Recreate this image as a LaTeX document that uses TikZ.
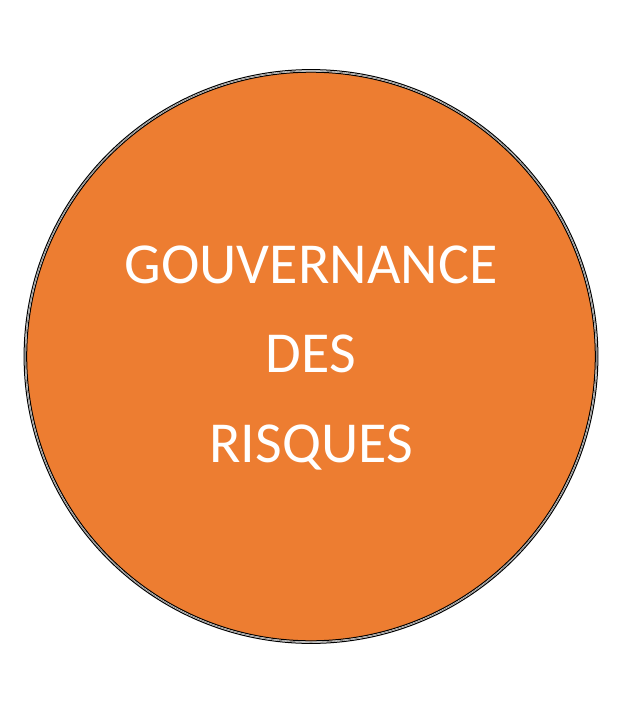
\documentclass[tikz,border=0pt]{standalone}
\usepackage{fontspec}
\setmainfont{Carlito}
\definecolor{orangefill}{HTML}{ED7D31}
\begin{document}
\begin{tikzpicture}[x=1pt,y=-1pt,
  lbl/.style={text=white,font=\fontsize{58}{64}\selectfont,anchor=base,inner sep=0pt}]
\useasboundingbox (0,0) rectangle (629,717);
\fill[orangefill] (311,356.5) circle (284.5);
\draw[black,line width=1pt] (311,356.5) circle (284.3);
\draw[black!45,line width=0.8pt] (311,356.5) circle (285.6);
\draw[black,line width=1pt] (311,356.5) circle (286.9);
\node[lbl] (l1) at (311,283) {GOUVERNANCE};
\node[lbl] (l2) at (311,372) {DES};
\node[lbl] (l3) at (311,462) {RISQUES};
\end{tikzpicture}
\end{document}
